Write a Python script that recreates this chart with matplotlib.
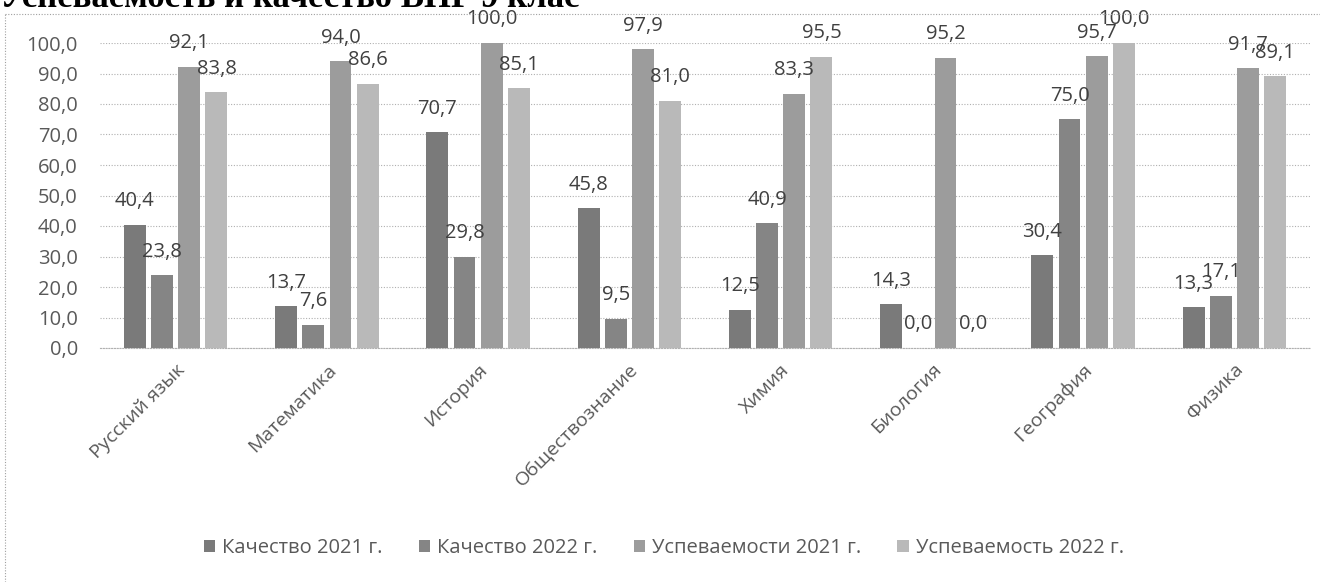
import matplotlib
matplotlib.use("Agg")
import matplotlib.pyplot as plt
import numpy as np

categories = ["Русский язык", "Математика", "История", "Обществознание",
              "Химия", "Биология", "География", "Физика"]
series_names = ["Качество 2021 г.", "Качество 2022 г.",
                "Успеваемости 2021 г.", "Успеваемость 2022 г."]
kach_2021 = [40.4, 13.7, 70.7, 45.8, 12.5, 14.3, 30.4, 13.3]
kach_2022 = [23.8, 7.6, 29.8, 9.5, 40.9, 0.0, 75.0, 17.1]
usp_2021 = [92.1, 94.0, 100.0, 97.9, 83.3, 95.2, 95.7, 91.7]
usp_2022 = [83.8, 86.6, 85.1, 81.0, 95.5, 0.0, 100.0, 89.1]
y_ticks = [0, 10, 20, 30, 40, 50, 60, 70, 80, 90, 100]
title_text = "Успеваемость и качество ВПР 9 клас"

series = [kach_2021, kach_2022, usp_2021, usp_2022]
colors = ["#7a7a7a", "#858585", "#9c9c9c", "#b9b9b9"]
txt = "#595959"
font = "Open Sans"

fig = plt.figure(figsize=(13.2, 5.82), dpi=100)
ax = fig.add_axes([100/1320, 1-348/582, 1210/1320, 305/582])

x = np.arange(len(categories))
w = 0.145
step = 0.18
offsets = (np.arange(4) - 1.5) * step
for i, (vals, c) in enumerate(zip(series, colors)):
    bars = ax.bar(x + offsets[i], vals, width=w, color=c, label=series_names[i],
                  zorder=3, clip_on=False)
    for b, v in zip(bars, vals):
        ax.annotate(f"{v:.1f}".replace(".", ","),
                    (b.get_x() + b.get_width()/2, b.get_height()),
                    xytext=(0, 17), textcoords="offset points",
                    ha="center", va="center", fontsize=14.5,
                    color="#404040", family=font, zorder=5)

ax.set_xlim(-0.5, len(categories) - 0.5)
ax.set_ylim(0, 100)
ax.set_yticks(y_ticks)
ax.set_yticklabels([f"{t:.1f}".replace(".", ",") for t in y_ticks],
                   fontsize=14.5, color=txt, family=font)
ax.set_xticks(x)
ax.set_xticklabels(categories, rotation=45, ha="right", rotation_mode="anchor",
                   fontsize=14, color=txt, family=font)
ax.tick_params(axis="both", length=0)
ax.tick_params(axis="y", pad=16)
ax.tick_params(axis="x", pad=9)
ax.grid(axis="y", color="#b0b0b0", linestyle=(0, (1, 1.5)), linewidth=0.8, zorder=0)
for s in ["top", "right", "left"]:
    ax.spines[s].set_visible(False)
ax.spines["bottom"].set_color("#b0b0b0")
ax.spines["bottom"].set_linestyle((0, (1, 1.5)))
ax.spines["bottom"].set_linewidth(0.8)

leg = fig.legend(loc="center", bbox_to_anchor=(0.503, 1-548/582), ncol=4,
                 frameon=False, handlelength=0.55, handleheight=0.55,
                 handletextpad=0.35, columnspacing=1.8,
                 prop={"family": font, "size": 14.5})
for t in leg.get_texts():
    t.set_color(txt)

# outer chart border (dotted)
fig.add_artist(plt.Line2D([5/1320, 5/1320], [0, 1-14/582], transform=fig.transFigure,
                          color="#a0a0a0", linestyle=(0, (1, 1.5)), linewidth=0.8))
fig.add_artist(plt.Line2D([5/1320, 1], [1-14/582, 1-14/582], transform=fig.transFigure,
                          color="#a0a0a0", linestyle=(0, (1, 1.5)), linewidth=0.8))

# partially visible title at the top edge (cut by the image border as in the scan)
fig.text(0.0, 1-7/582, title_text, ha="left", va="baseline",
         fontsize=25, fontweight="bold", family="Liberation Serif", color="#000000")

fig.savefig("out.png", dpi=100)
